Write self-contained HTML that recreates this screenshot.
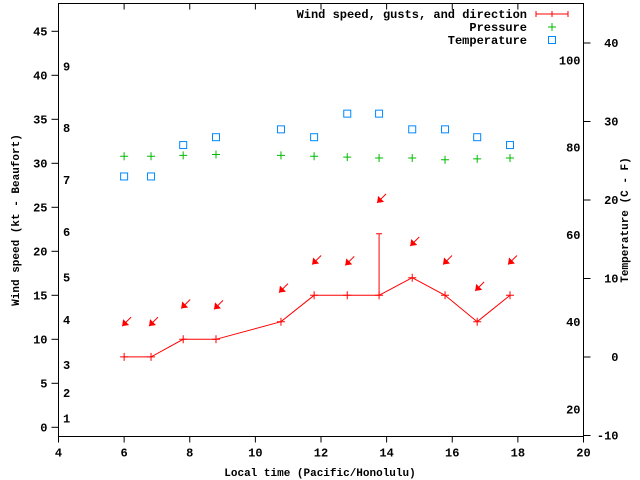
<!DOCTYPE html>
<html><head><meta charset="utf-8"><style>
body{margin:0;background:#fff}
svg{display:block;font-family:"Liberation Mono",monospace;font-size:12px;font-weight:bold}
</style></head><body>
<svg width="640" height="480" viewBox="0 0 640 480">
<g id="axes"></g>
<g id="marks"></g>
<g id="legend"></g>
<text transform="translate(19,220) rotate(-90)" text-anchor="middle" font-size="11">Wind speed (kt - Beaufort)</text>
<text transform="translate(628,220) rotate(-90)" text-anchor="middle" font-size="11">Temperature (C - F)</text>
<text x="320" y="476" text-anchor="middle" font-size="11">Local time (Pacific/Honolulu)</text>
</svg>
<script>
const times=[6.0,6.82,7.8,8.8,10.78,11.79,12.8,13.77,14.78,15.78,16.76,17.76];
const wind=[8,8,10,10,12,15,15,15,17,15,12,15];
const gustTime=[13.77];
const gustVal=[22];
const pressure=[30.8,30.8,30.9,31.0,30.9,30.8,30.7,30.6,30.6,30.4,30.5,30.6];
const temperature=[23,23,27,28,29,28,31,31,29,29,28,27];
const arrowY=[11.5,11.5,13.5,13.4,15.3,18.5,18.4,25.5,20.6,18.5,15.5,18.5];
const xTicks=[4,6,8,10,12,14,16,18,20];
const yTicks=[0,5,10,15,20,25,30,35,40,45];
const y2Ticks=[-10,0,10,20,30,40];
const fTicks=[20,40,60,80,100];
const beaufort=[1,2,3,4,5,6,7,8,9];
const beaufortKt=[1,3.9,7.1,12.2,17,22.2,28.1,34,41];

const NS="http://www.w3.org/2000/svg";
const L=58.5,R=583.5,T=3.5,B=436.5;
const X=v=>L+(v-4)*(R-L)/16;
const Y=v=>427.3-v*8.8;
const Y2=c=>357-c*7.85;
const YF=f=>Y2((f-32)*5/9);
function mk(p,tag,a,txt){const e=document.createElementNS(NS,tag);for(const k in a)e.setAttribute(k,a[k]);if(txt!==undefined)e.textContent=txt;p.appendChild(e);return e;}
const ax=document.getElementById('axes'),mg=document.getElementById('marks'),lg=document.getElementById('legend');
let e=mk(ax,'rect',{x:L,y:T,width:R-L,height:B-T,fill:'none',stroke:'#000','stroke-width':1});


xTicks.forEach(v=>{const x=X(v);
 mk(ax,'line',{x1:x,y1:B,x2:x,y2:B+6,stroke:'#000'});
 mk(ax,'line',{x1:x,y1:T,x2:x,y2:T+6,stroke:'#000'});
 const t=mk(ax,'text',{x:x,y:B+20,'text-anchor':'middle'},v);
 
 });
yTicks.forEach(v=>{const y=Y(v);
 mk(ax,'line',{x1:L-7,y1:y,x2:L,y2:y,stroke:'#000'});
 const t=mk(ax,'text',{x:L-11,y:y+4,'text-anchor':'end'},v);
 
 });
y2Ticks.forEach(v=>{const y=Y2(v);
 mk(ax,'line',{x1:R,y1:y,x2:R+7,y2:y,stroke:'#000'});
 const t=mk(ax,'text',{x:R+35,y:y+4,'text-anchor':'end'},v);
 
 });
fTicks.forEach(v=>{const t=mk(ax,'text',{x:R-3,y:YF(v)+4,'text-anchor':'end'},v);
 
 });
beaufort.forEach((v,i)=>{const t=mk(ax,'text',{x:63,y:Y(beaufortKt[i])+4},v);
 
 });
// wind line
let pts=times.map((t,i)=>X(t)+','+Y(wind[i])).join(' ');
e=mk(mg,'polyline',{points:pts,fill:'none',stroke:'#f00','stroke-width':1});


times.forEach((t,i)=>{const x=X(t),y=Y(wind[i]);
 const g=mk(mg,'path',{d:`M${x-4},${y}H${x+4}M${x},${y-4}V${y+4}`,stroke:'#f00'});
 
 });
gustTime.forEach((t,i)=>{const x=X(t);
 const g=mk(mg,'path',{d:`M${x},${Y(wind[times.indexOf(t)])}V${Y(gustVal[i])}M${x-3},${Y(gustVal[i])}H${x+3}`,stroke:'#f00'});
 
 });
times.forEach((t,i)=>{const x=X(t)-2,y=Y(arrowY[i]);
 const g=mk(mg,'g',{});
 
 
 mk(g,'line',{x1:x+9,y1:y-9,x2:x,y2:y,stroke:'#f00'});
 mk(g,'polygon',{points:`${x},${y} ${x+1},${y-7} ${x+7},${y-1}`,fill:'#f00'});});
times.forEach((t,i)=>{const x=X(t),y=Y(pressure[i]);
 const g=mk(mg,'path',{d:`M${x-4},${y}H${x+4}M${x},${y-4}V${y+4}`,stroke:'#0b0'});
 
 });
times.forEach((t,i)=>{const x=X(t),y=Y2(temperature[i]);
 const g=mk(mg,'rect',{x:x-3.5,y:y-3.5,width:7,height:7,fill:'none',stroke:'#08f'});
 
 });
// legend
const items=[['Wind speed, gusts, and direction',14],['Pressure',27],['Temperature',40]];
items.forEach((it,i)=>{const t=mk(lg,'text',{x:527,y:it[1]+4,'text-anchor':'end'},it[0]);
 
 });
mk(lg,'path',{d:'M536,14H568M536,11V17M552,11V17M568,11V17',stroke:'#f00'});
mk(lg,'path',{d:'M548,27H556M552,23V31',stroke:'#0b0'});
mk(lg,'rect',{x:548.5,y:36.5,width:7,height:7,fill:'none',stroke:'#08f'});
</script>
</body></html>
